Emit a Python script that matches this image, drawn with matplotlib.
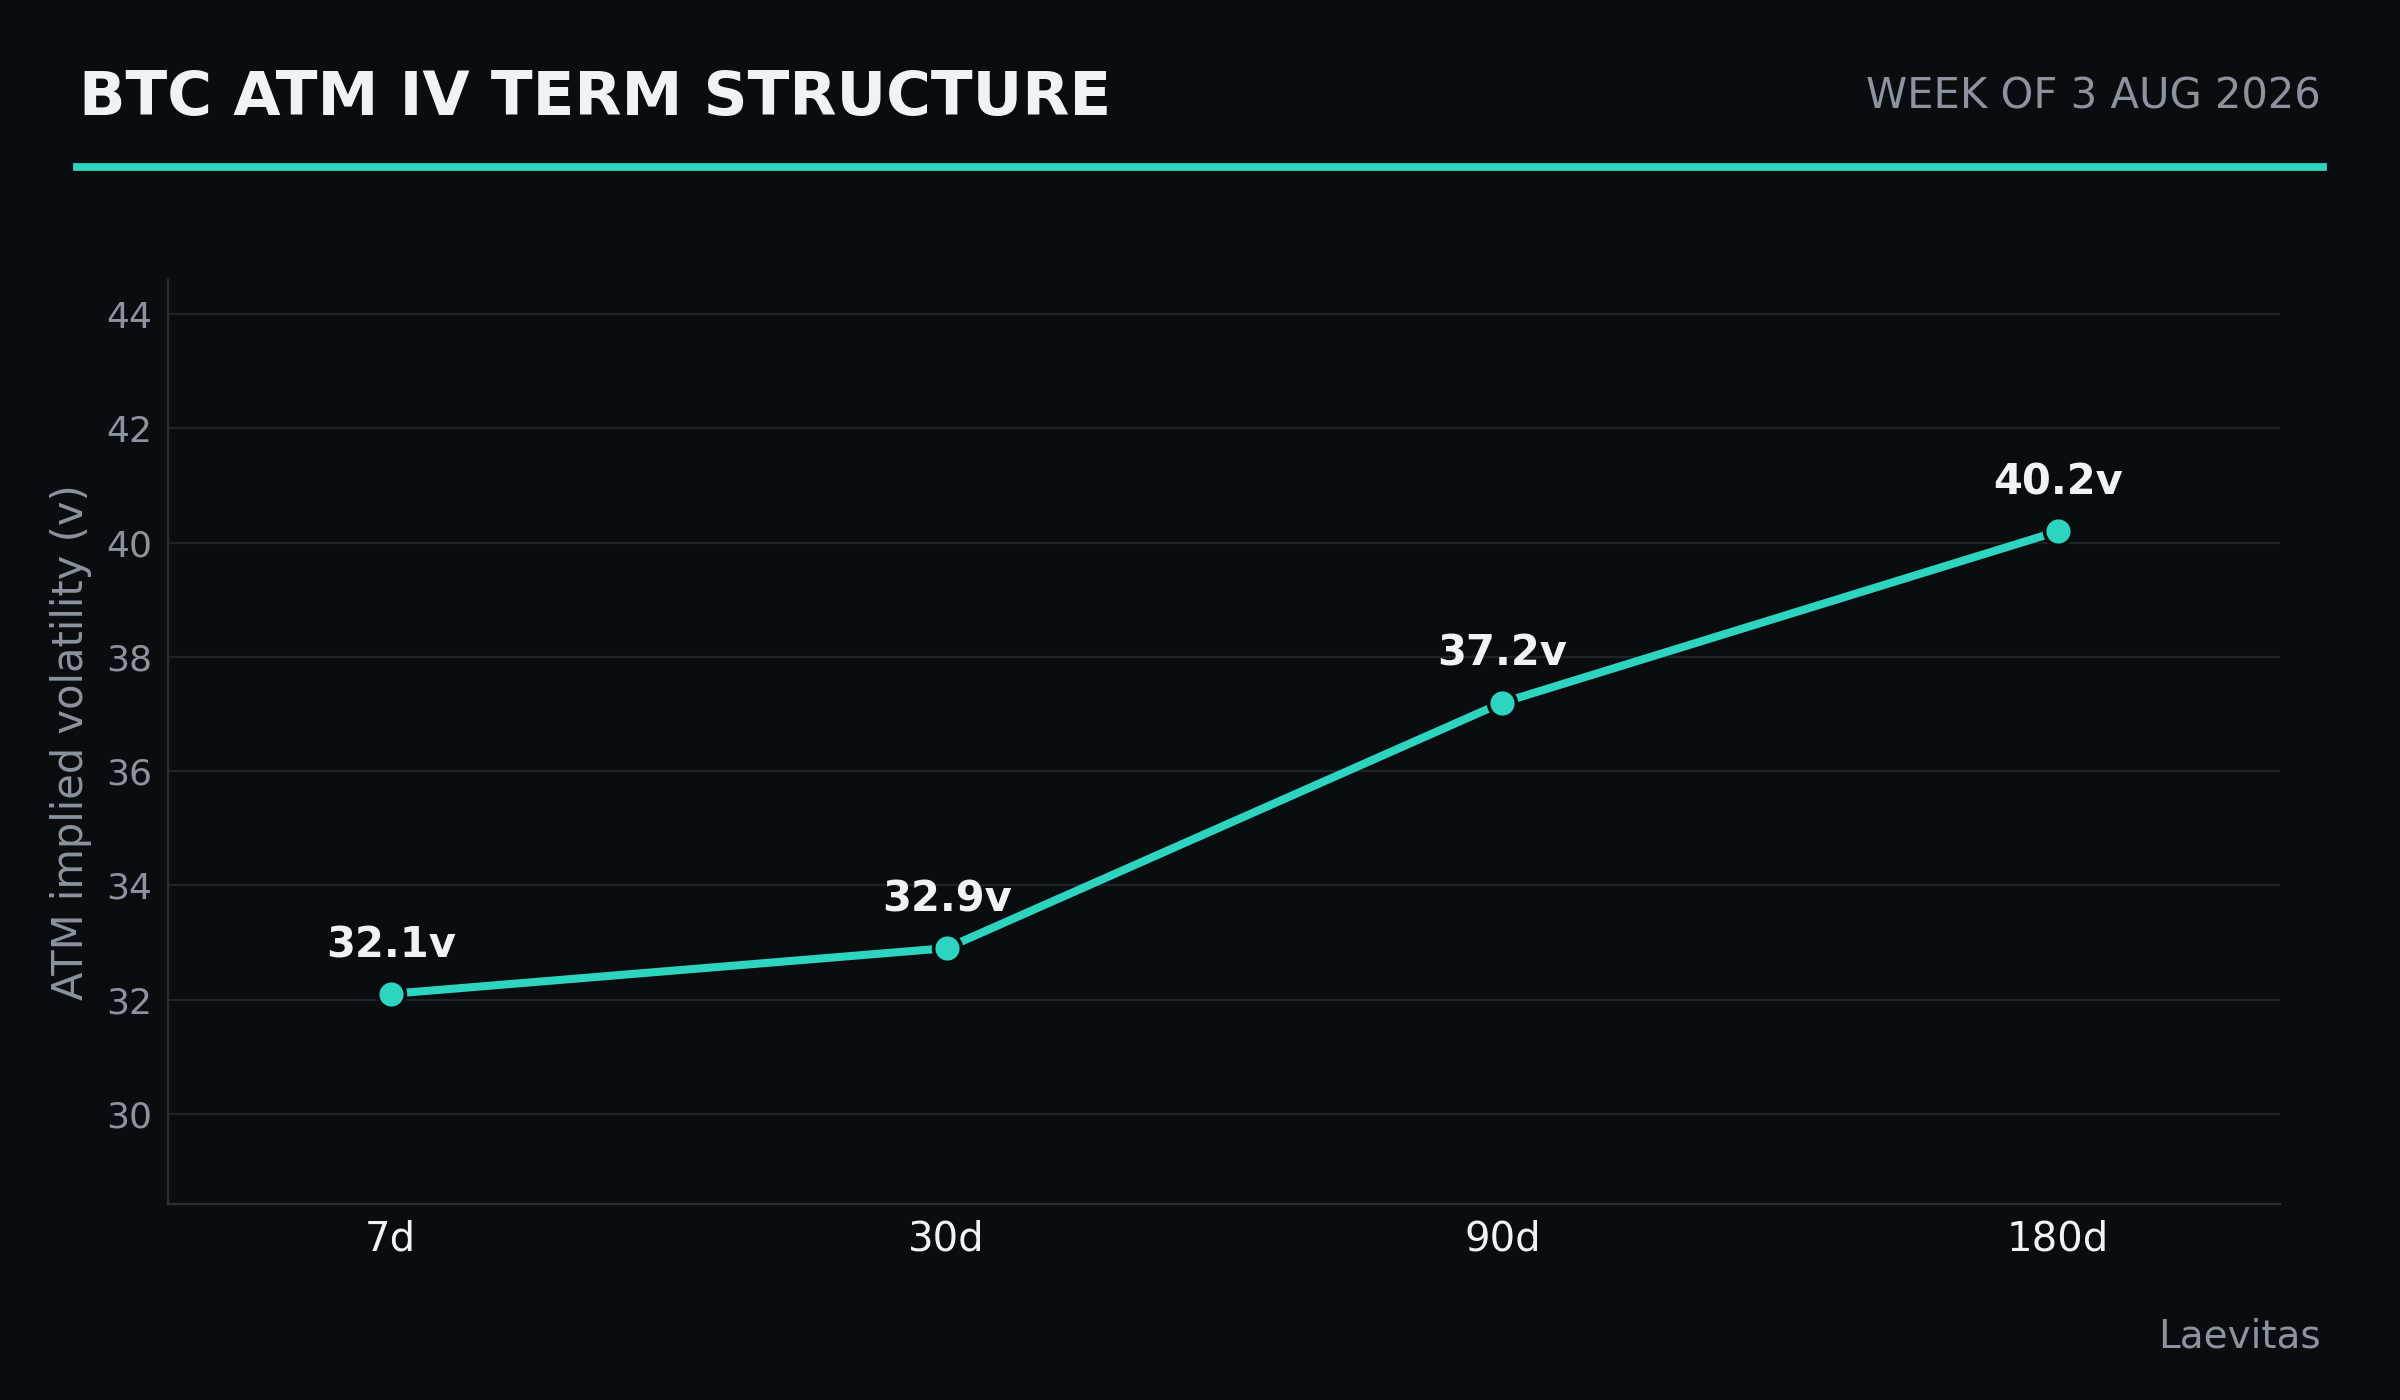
import matplotlib
matplotlib.use("Agg")
from matplotlib import pyplot as plt

# Datos del gráfico
tenors = ["7d", "30d", "90d", "180d"]
atm_iv = [32.1, 32.9, 37.2, 40.2]
y_ticks = [30, 32, 34, 36, 38, 40, 42, 44]

BG = "#0a0d10"
TEAL = "#2dd4bf"
GRAY = "#8b949e"
WHITE = "#f0f3f6"
GRID = "#1e242b"

fig = plt.figure(figsize=(12, 7), dpi=200, facecolor=BG)
ax = fig.add_axes([0.0702, 0.140, 0.880, 0.660], facecolor=BG)

x = list(range(len(tenors)))
ax.plot(x, atm_iv, color=TEAL, linewidth=2.9, marker="o", markersize=10,
        markerfacecolor=TEAL, markeredgecolor=BG, markeredgewidth=1.3, zorder=3)

for xi, v in zip(x, atm_iv):
    ax.annotate(f"{v:.1f}v", (xi, v), xytext=(0, 10), textcoords="offset points",
                ha="center", va="bottom", color=WHITE, fontsize=15, fontweight="bold")

ax.set_xlim(-0.4, 3.4)
ax.set_ylim(28.42, 44.6)
ax.set_xticks(x)
ax.set_xticklabels(tenors, color=WHITE, fontsize=14.5)
ax.set_yticks(y_ticks)
ax.set_yticklabels([str(t) for t in y_ticks], color=GRAY, fontsize=13)
ax.tick_params(length=0)
ax.tick_params(axis="x", pad=5.5)
ax.tick_params(axis="y", pad=6)
ax.grid(axis="y", color=GRID, linewidth=0.8)
ax.set_axisbelow(True)
for side in ["top", "right"]:
    ax.spines[side].set_visible(False)
for side in ["left", "bottom"]:
    ax.spines[side].set_color("#2a3038")
    ax.spines[side].set_linewidth(0.8)
ax.set_ylabel("ATM implied volatility (v)", color=GRAY, fontsize=15, labelpad=5)

# Encabezado
fig.text(0.033, 0.930, "BTC ATM IV TERM STRUCTURE", color=WHITE, fontsize=22,
         fontweight="bold", ha="left", va="center")
fig.text(0.967, 0.931, "WEEK OF 3 AUG 2026", color=GRAY, fontsize=15,
         ha="right", va="center")
fig.add_artist(plt.Line2D([0.032, 0.968], [0.881, 0.881], color=TEAL,
                          linewidth=2.8, transform=fig.transFigure))
fig.text(0.967, 0.045, "Laevitas", color=GRAY, fontsize=14, ha="right", va="center")

fig.savefig("out.png", facecolor=BG)
